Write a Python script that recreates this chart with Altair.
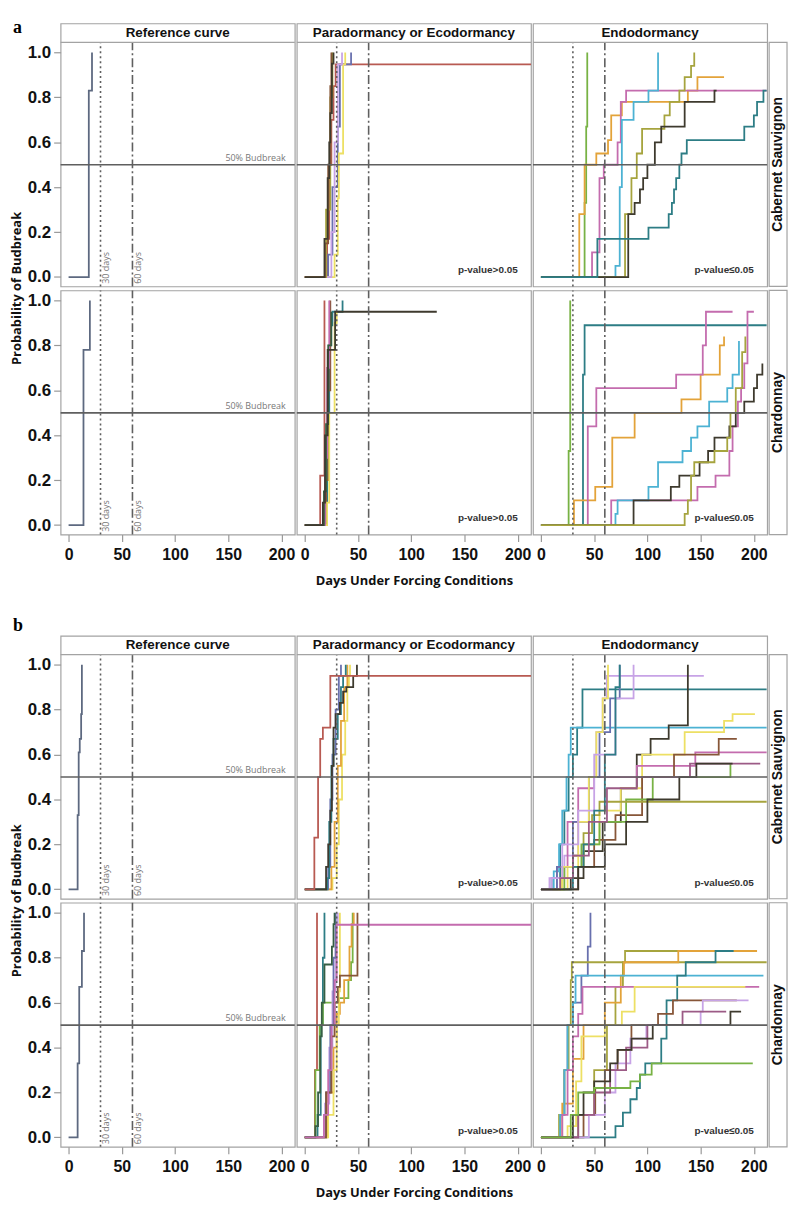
import altair as alt
import pandas as pd

# ---------------- categories / labels ----------------
STAGES = ["Reference curve", "Paradormancy or Ecodormancy", "Endodormancy"]
VARIETIES = ["Cabernet Sauvignon", "Chardonnay"]
X_TICKS = [0, 50, 100, 150, 200]
Y_TICKS = [0.0, 0.2, 0.4, 0.6, 0.8, 1.0]
MARK_DAYS = [30, 60]
MARK_LABELS = ["30 days", "60 days"]
BUDBREAK_LEVEL = 0.5
BUDBREAK_LABEL = "50% Budbreak"
P_LABELS = {"Paradormancy or Ecodormancy": "p-value>0.05", "Endodormancy": "p-value\u22640.05"}
X_TITLE = "Days Under Forcing Conditions"
Y_TITLE = "Probability of Budbreak"

COLORS = {
    "ref": "#5d6980", "green": "#78b244", "orange": "#e3a33a", "pink": "#c46cae",
    "ltblue": "#4cb2d3", "olive": "#a6a43e", "dark": "#3e3a2e", "teal": "#2d7d85",
    "red": "#b85a52", "yellow": "#ede064", "slate": "#6870ae", "lavender": "#c7a3e6",
    "mauve": "#9c5b86", "dkgreen": "#365f44", "brown": "#875638",
}

# ---------------- curves: (colour, days, probability) ----------------
A_CS_REF = [("ref", [0, 19, 22], [0, 0.83, 1.0])]
A_CH_REF = [("ref", [0, 14, 20], [0, 0.78, 1.0])]

A_CS_PARA = [
    ("red", [0, 21, 23, 25, 27, 29, 213], [0, .17, .5, .7, .85, .947, .947]),
    ("slate", [0, 22, 26, 31, 33, 43.5], [0, .1, .4, .67, .947, 1.0]),
    ("yellow", [0, 28, 31, 32, 36, 38], [0, .1, .35, .55, .947, 1.0]),
    ("lavender", [0, 25, 28, 31, 35], [0, .2, .6, .947, 1.0]),
    ("olive", [0, 20, 24, 26], [0, .3, .8, 1.0]),
    ("brown", [0, 19, 22, 24, 25], [0, .15, .5, .85, 1.0]),
    ("dark", [0, 18.5, 21.5, 23, 24, 25.5, 27], [0, .17, .44, .6, .73, .95, 1.0]),
]
A_CH_PARA = [
    ("red", [0, 14.5, 18.5], [0, .22, 1.0]),
    ("teal", [0, 19, 21, 23, 24.5, 26, 35.5], [0, .1, .5, .8, .89, .95, 1.0]),
    ("brown", [0, 20, 22, 24], [0, .2, .6, 1.0]),
    ("yellow", [0, 21, 23, 28, 30], [0, .1, .5, .9, .95]),
    ("pink", [0, 19, 21, 23], [0, .3, .7, 1.0]),
    ("dkgreen", [0, 18, 20, 22, 25], [0, .15, .45, .8, .95]),
    ("dark", [0, 17, 19, 21.5, 28.5, 124], [0, .1, .4, .78, .95, .95]),
]
A_CS_ENDO = [
    ("green", [0, 41, 42.5, 43.5], [0, .33, .67, 1.0]),
    ("orange", [0, 36, 41, 52, 63, 66, 76, 138, 147, 172], [0, .28, .5, .55, .61, .72, .78, .83, .89, .89]),
    ("pink", [0, 48, 55, 59, 72, 75, 80, 212], [0, .11, .44, .5, .6, .78, .83, .83]),
    ("ltblue", [0, 70, 74, 76, 87, 101, 110], [0, .05, .4, .7, .78, .83, 1.0]),
    ("olive", [0, 79, 85, 90, 95, 116, 121, 130, 135, 141, 144], [0, .28, .44, .55, .66, .72, .78, .83, .89, .94, 1.0]),
    ("dark", [0, 82, 88, 93, 96, 100, 107, 113, 135, 163, 165], [0, .28, .33, .39, .44, .5, .6, .67, .78, .83, .83]),
    ("teal", [0, 53, 101, 120, 123, 125, 127, 130, 132, 137, 191, 200, 203, 209, 212],
     [0, .17, .22, .28, .33, .39, .44, .5, .55, .61, .67, .72, .78, .83, .83]),
]
A_CH_ENDO = [
    ("green", [0, 26, 27.5], [0, .33, 1.0]),
    ("teal", [0, 39.5, 41, 212], [0, .67, .89, .89]),
    ("orange", [0, 31, 51, 67, 88, 132, 150, 168, 172], [0, .11, .17, .39, .5, .56, .67, .8, .84]),
    ("pink", [0, 44, 52, 127, 152, 155, 180], [0, .44, .61, .67, .8, .95, .95]),
    ("pink", [0, 66, 147, 164, 177, 180, 185, 188, 191, 194, 200], [0, .11, .17, .22, .33, .44, .55, .61, .72, .95, .95]),
    ("ltblue", [0, 70, 72, 101, 110, 133, 141, 147, 158, 175, 180, 186], [0, .05, .11, .17, .28, .33, .39, .44, .55, .61, .67, .82]),
    ("dark", [0, 87, 122, 130, 149, 157, 163, 177, 183, 191, 200, 203, 208], [0, .11, .17, .22, .28, .33, .39, .44, .5, .55, .61, .67, .72]),
    ("olive", [0, 135, 138, 141, 144, 163, 175, 178, 183, 189, 192], [0, .05, .11, .22, .28, .33, .39, .5, .61, .77, .84]),
]

B_CS_REF = [("ref", [0, 8.5, 9.5, 10.5, 11.8, 12.5], [0, .33, .61, .67, .78, 1.0])]
B_CH_REF = [("ref", [0, 8.5, 10, 12.5, 14.5], [0, .33, .67, .83, 1.0])]

B_CS_PARA = [
    ("yellow", [0, 26, 30, 32, 35, 38, 40, 41.5, 42.5], [0, .05, .2, .4, .6, .75, .9, .95, 1.0]),
    ("orange", [0, 25, 28, 31, 34, 37, 40], [0, .1, .3, .55, .75, .9, 1.0]),
    ("slate", [0, 22, 24, 26, 29, 32, 34], [0, .1, .4, .6, .8, .95, 1.0]),
    ("teal", [0, 21, 23, 25, 27, 31, 34, 36, 38.5], [0, .05, .3, .55, .67, .78, .9, .95, 1.0]),
    ("dark", [0, 20, 22, 24, 25.5, 27, 29, 33, 36, 39, 45.5, 49], [0, .1, .2, .35, .55, .72, .78, .83, .88, .9, .95, 1.0]),
    ("red", [0, 9, 12.5, 14.5, 17, 24, 213], [0, .23, .5, .67, .72, .95, .95]),
]
B_CH_PARA = [
    ("red", [0, 9.5, 11.5], [0, .3, 1.0]),
    ("teal", [0, 12, 15, 17, 18.5], [0, .1, .5, .8, 1.0]),
    ("green", [0, 10, 14, 17, 32, 41, 43.5, 45], [0, .3, .5, .6, .62, .7, .78, 1.0]),
    ("orange", [0, 21, 27, 30, 33, 37, 42, 44, 46], [0, .2, .4, .55, .6, .7, .85, .95, 1.0]),
    ("yellow", [0, 22, 27, 30, 32, 33], [0, .1, .3, .5, .65, 1.0]),
    ("lavender", [0, 19, 23, 26, 29, 31], [0, .15, .4, .65, .95, 1.0]),
    ("slate", [0, 20, 24, 27, 29], [0, .2, .5, .8, 1.0]),
    ("brown", [0, 20, 25, 28, 31, 33, 49.5], [0, .2, .45, .6, .67, .72, 1.0]),
    ("dkgreen", [0, 10, 12.5, 14.5, 16, 18.5, 25.5, 27, 28], [0, .05, .2, .45, .6, .77, .85, .95, 1.0]),
    ("pink", [0, 18, 22, 25, 28, 30, 213], [0, .1, .3, .5, .7, .947, .947]),
]
B_CS_ENDO = [
    ("teal", [0, 10, 18, 22, 26, 30, 34, 39, 212], [0, .05, .2, .35, .5, .6, .72, .89, .89]),
    ("ltblue", [0, 12, 17, 20, 24, 26, 28, 212], [0, .08, .2, .35, .5, .6, .72, .72]),
    ("lavender", [0, 8, 22, 35, 45, 52, 58, 62, 153], [0, .05, .15, .3, .5, .7, .85, .95, .95]),
    ("dark", [0, 28, 40, 58, 75, 90, 103, 120, 138], [0, .05, .17, .3, .45, .6, .67, .73, 1.0]),
    ("yellow", [0, 25, 40, 55, 75, 95, 135, 172, 180, 201], [0, .1, .2, .35, .45, .6, .7, .75, .78, .78]),
    ("pink", [0, 15, 25, 35, 50, 90, 145, 212], [0, .1, .3, .45, .5, .55, .61, .61]),
    ("brown", [0, 35, 50, 70, 95, 125, 167, 184], [0, .1, .22, .33, .5, .6, .67, .67]),
    ("green", [0, 22, 38, 55, 80, 105, 178], [0, .1, .2, .3, .4, .5, .56]),
    ("olive", [0, 20, 30, 40, 48, 55, 212], [0, .05, .15, .25, .33, .39, .39]),
    ("slate", [0, 15, 30, 45, 55, 65, 74], [0, .1, .3, .5, .7, .85, 1.0]),
    ("yellow", [0, 20, 35, 45, 52, 58, 63], [0, .1, .3, .5, .7, .85, 1.0]),
    ("lavender", [0, 10, 20, 35, 50, 70, 87], [0, .05, .2, .35, .6, .85, 1.0]),
    ("teal", [0, 30, 40, 50, 60, 70, 74], [0, .1, .2, .35, .6, .9, 1.0]),
    ("mauve", [0, 18, 30, 45, 62, 90, 140, 206], [0, .05, .15, .3, .45, .5, .56, .56]),
    ("dark", [0, 35, 60, 80, 100, 130, 146, 180], [0, .1, .2, .3, .4, .5, .56, .56]),
]
B_CH_ENDO = [
    ("slate", [0, 18, 22, 25, 30, 38, 44, 46.5], [0, .1, .3, .5, .6, .72, .85, 1.0]),
    ("olive", [0, 17, 22, 26, 28, 29, 212], [0, .1, .3, .5, .7, .78, .78]),
    ("olive", [0, 35, 50, 62, 70, 77, 79, 130], [0, .1, .3, .5, .67, .78, .83, .83]),
    ("orange", [0, 20, 30, 40, 60, 75, 78, 129, 203], [0, .15, .35, .5, .6, .72, .78, .83, .83]),
    ("ltblue", [0, 18, 22, 25, 30, 32.5, 209], [0, .1, .3, .5, .6, .72, .72]),
    ("teal", [0, 70, 77, 84, 90, 93, 98, 113, 118, 128, 136, 164, 181], [0, .05, .11, .17, .22, .28, .33, .44, .61, .72, .78, .83, .83]),
    ("pink", [0, 20, 25, 30, 35, 39, 205], [0, .1, .3, .45, .55, .67, .67]),
    ("yellow", [0, 25, 33, 38, 60, 76, 88, 192], [0, .05, .25, .45, .5, .56, .67, .67]),
    ("brown", [0, 40, 51, 60, 72, 85, 110, 124, 184], [0, .1, .22, .3, .39, .5, .55, .61, .61]),
    ("lavender", [0, 45, 60, 70, 84, 99, 150, 152, 195], [0, .1, .2, .33, .44, .5, .56, .61, .61]),
    ("mauve", [0, 35, 50, 65, 80, 100, 133, 174], [0, .1, .2, .3, .4, .5, .56, .56]),
    ("dark", [0, 30, 40, 50, 65, 72, 85, 105, 178, 188], [0, .1, .2, .25, .33, .39, .44, .5, .56, .56]),
    ("green", [0, 28, 35, 50, 84, 93, 104, 199], [0, .1, .2, .22, .25, .28, .33, .33]),
]

FIG_A = {("Cabernet Sauvignon", STAGES[0]): A_CS_REF, ("Cabernet Sauvignon", STAGES[1]): A_CS_PARA,
         ("Cabernet Sauvignon", STAGES[2]): A_CS_ENDO, ("Chardonnay", STAGES[0]): A_CH_REF,
         ("Chardonnay", STAGES[1]): A_CH_PARA, ("Chardonnay", STAGES[2]): A_CH_ENDO}
FIG_B = {("Cabernet Sauvignon", STAGES[0]): B_CS_REF, ("Cabernet Sauvignon", STAGES[1]): B_CS_PARA,
         ("Cabernet Sauvignon", STAGES[2]): B_CS_ENDO, ("Chardonnay", STAGES[0]): B_CH_REF,
         ("Chardonnay", STAGES[1]): B_CH_PARA, ("Chardonnay", STAGES[2]): B_CH_ENDO}

# ---------------- layout / style ----------------
PANEL_W, PANEL_H, HEADER_H = 236, 246, 19
STRIP_W, SIDE_W = 18, 50
COL_GAP, ROW_GAP = 2, 4
TOP_H, GAP_H = 1, 94
X_DOMAIN = [-7.5, 212.5]
Y_MIN, Y_MAX = -0.042, 1.045
Y_HEAD = Y_MAX + HEADER_H * (Y_MAX - Y_MIN) / PANEL_H
BORDER = "#a3a3a3"
GUIDE = "#5f5f5f"
SANS = "Liberation Sans"
TRANSPARENT = alt.ViewBackground(stroke="transparent")
CSCALE = alt.Scale(domain=list(COLORS), range=list(COLORS.values()))


def curves_df(curves):
    rows = []
    for k, (col, days, ps) in enumerate(curves):
        for i, (d, p) in enumerate(zip(days, ps)):
            rows.append({"curve": k, "col": col, "i": i, "day": d, "p": p})
    return pd.DataFrame(rows)


def panel(curves, stage, top, bottom, left):
    y_hi = Y_HEAD if top else Y_MAX
    xs = alt.Scale(domain=X_DOMAIN, nice=False, zero=False)
    ys = alt.Scale(domain=[Y_MIN, y_hi], nice=False, zero=False)
    if bottom:
        xaxis = alt.Axis(values=X_TICKS, title=X_TITLE if stage == STAGES[1] else None)
    else:
        xaxis = None
    yaxis = alt.Axis(values=Y_TICKS, format=".1f", title=None) if left else None

    def X():
        return alt.X("day:Q", scale=xs, axis=xaxis)

    def Y():
        return alt.Y("p:Q", scale=ys, axis=yaxis)

    layers = [
        alt.Chart(curves_df(curves)).mark_line(interpolate="step-after", strokeWidth=1.8, clip=True).encode(
            x=X(), y=Y(), color=alt.Color("col:N", scale=CSCALE, legend=None),
            detail="curve:N", order="i:Q")
    ]
    gdf = pd.DataFrame({"day": MARK_DAYS, "p": [Y_MIN] * 2, "p2": [Y_MAX] * 2})
    layers.append(alt.Chart(gdf.iloc[[0]]).mark_rule(color=GUIDE, strokeWidth=1.6, strokeDash=[2, 3]).encode(
        x=X(), y=Y(), y2="p2:Q"))
    layers.append(alt.Chart(gdf.iloc[[1]]).mark_rule(color=GUIDE, strokeWidth=1.6, strokeDash=[9, 3, 2, 3]).encode(
        x=X(), y=Y(), y2="p2:Q"))
    layers.append(alt.Chart(pd.DataFrame({"p": [BUDBREAK_LEVEL]})).mark_rule(color=GUIDE, strokeWidth=1.7).encode(y=Y()))

    if stage == STAGES[0]:
        layers.append(alt.Chart(pd.DataFrame({"day": [204], "p": [BUDBREAK_LEVEL], "t": [BUDBREAK_LABEL]})).mark_text(
            align="right", baseline="bottom", dy=-2, fontSize=9, font="Open Sans", color="#777").encode(
            x=X(), y=Y(), text="t:N"))
        layers.append(alt.Chart(pd.DataFrame({"day": MARK_DAYS, "p": [-0.03] * 2, "t": MARK_LABELS})).mark_text(
            align="left", baseline="top", angle=270, dy=2, fontSize=9, font="Open Sans", color="#777").encode(
            x=X(), y=Y(), text="t:N"))
    else:
        layers.append(alt.Chart(pd.DataFrame({"day": [200], "p": [0.03], "t": [P_LABELS[stage]]})).mark_text(
            align="right", baseline="middle", fontSize=10, fontWeight="bold", font=SANS, color="#333").encode(
            x=X(), y=Y(), text="t:N"))

    if top:
        layers.append(alt.Chart(pd.DataFrame({"p": [Y_MAX]})).mark_rule(color=BORDER, strokeWidth=1.2).encode(y=Y()))
        layers.append(alt.Chart(pd.DataFrame({"day": [sum(X_DOMAIN) / 2], "p": [(Y_MAX + Y_HEAD) / 2], "t": [stage]})).mark_text(
            align="center", baseline="middle", fontSize=13.5, fontWeight="bold", font=SANS, color="#111").encode(
            x=X(), y=Y(), text="t:N"))
    return alt.layer(*layers).properties(width=PANEL_W, height=PANEL_H + (HEADER_H if top else 0))


def strip(label, top):
    y_hi = Y_HEAD if top else Y_MAX
    xs = alt.Scale(domain=[0, 1], nice=False, zero=False)
    ys = alt.Scale(domain=[Y_MIN, y_hi], nice=False, zero=False)
    box = alt.Chart(pd.DataFrame({"sx": [0], "sx2": [1], "sy": [Y_MIN], "sy2": [Y_MAX]})).mark_rect(
        fill="white", stroke=BORDER, strokeWidth=1.2).encode(
        x=alt.X("sx:Q", scale=xs, axis=None), x2="sx2:Q", y=alt.Y("sy:Q", scale=ys, axis=None), y2="sy2:Q")
    txt = alt.Chart(pd.DataFrame({"sx": [0.5], "sy": [(Y_MIN + Y_MAX) / 2], "t": [label]})).mark_text(
        angle=270, align="center", baseline="middle", fontSize=14, fontWeight="bold", font=SANS, color="#111").encode(
        x=alt.X("sx:Q", scale=xs, axis=None), y=alt.Y("sy:Q", scale=ys, axis=None), text="t:N")
    return alt.layer(box, txt).properties(width=STRIP_W, height=PANEL_H + (HEADER_H if top else 0), view=TRANSPARENT)


def blank(w, h):
    return alt.Chart(pd.DataFrame({"t": [""]})).mark_text().encode(text="t:N").properties(
        width=w, height=h, view=TRANSPARENT)


def letter_cell(letter, h, baseline_y):
    return alt.Chart(pd.DataFrame({"t": [letter]})).mark_text(
        align="left", baseline="alphabetic", fontSize=18, fontWeight="bold", font="Liberation Serif", color="#000").encode(
        x=alt.value(4), y=alt.value(baseline_y), text="t:N").properties(width=SIDE_W, height=h, view=TRANSPARENT)


def ytitle_cell(h):
    mid = HEADER_H + PANEL_H + ROW_GAP / 2
    return alt.Chart(pd.DataFrame({"t": [Y_TITLE]})).mark_text(
        align="center", baseline="middle", angle=270, fontSize=13, fontWeight="bold", font="Open Sans", color="#111").encode(
        x=alt.value(8), y=alt.value(mid), text="t:N").properties(width=SIDE_W, height=h, view=TRANSPARENT)


def figure_cells(panels):
    cells = []
    for r, variety in enumerate(VARIETIES):
        top = r == 0
        h = PANEL_H + (HEADER_H if top else 0)
        cells.append(ytitle_cell(h) if top else blank(SIDE_W, h))
        for c, st in enumerate(STAGES):
            cells.append(panel(panels[(variety, st)], st, top, r == 1, c == 0))
        cells.append(strip(variety, top))
    return cells


grid = []
grid += [letter_cell("a", TOP_H, 15)] + [blank(1, TOP_H)] * 4
grid += figure_cells(FIG_A)
grid += [letter_cell("b", GAP_H, GAP_H - 1)] + [blank(1, GAP_H)] * 4
grid += figure_cells(FIG_B)

chart = alt.concat(*grid, columns=5, spacing={"row": ROW_GAP, "column": COL_GAP},
                   bounds="flush", align="each").properties(
    padding=0
).configure_view(stroke=BORDER, strokeWidth=1.2).configure_axis(
    labelFont=SANS, labelFontWeight="bold", labelColor="#111",
    tickColor="#999", tickSize=7, tickWidth=1.2, domain=False, grid=False,
    titleFont="Open Sans", titleFontWeight="bold", titleFontSize=13, titleColor="#111",
).configure_axisX(titlePadding=12, labelPadding=5, labelFontSize=16).configure_axisY(labelFontSize=17, labelPadding=3)

chart.save("out.html", embed_options={"renderer": "svg", "actions": False})
